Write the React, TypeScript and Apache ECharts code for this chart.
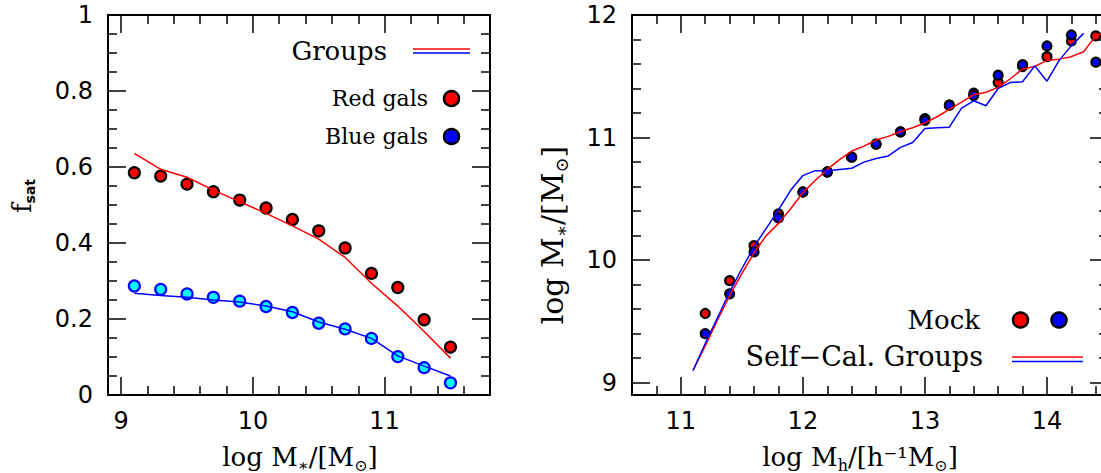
import React, { useEffect, useRef } from 'react';
import * as echarts from 'echarts';

// ---------- Left panel: satellite fraction vs stellar mass ----------
const leftMass = [9.1, 9.3, 9.5, 9.7, 9.9, 10.1, 10.3, 10.5, 10.7, 10.9, 11.1, 11.3, 11.5];
const redGalsPts = [0.585, 0.576, 0.555, 0.535, 0.513, 0.492, 0.462, 0.432, 0.387, 0.320, 0.283, 0.198, 0.126];
const blueGalsPts = [0.287, 0.278, 0.266, 0.257, 0.247, 0.233, 0.217, 0.189, 0.174, 0.149, 0.101, 0.072, 0.032];
const redGroupsLine = [0.636, 0.594, 0.573, 0.539, 0.509, 0.478, 0.445, 0.410, 0.362, 0.294, 0.234, 0.167, 0.097];
const blueGroupsLine = [0.268, 0.262, 0.257, 0.250, 0.245, 0.234, 0.219, 0.192, 0.173, 0.149, 0.103, 0.076, 0.050];

// ---------- Right panel: stellar mass vs halo mass ----------
const mockHalo = [11.2, 11.4, 11.6, 11.8, 12.0, 12.2, 12.4, 12.6, 12.8, 13.0, 13.2, 13.4, 13.6, 13.8, 14.0, 14.2, 14.4];
const mockRed = [9.565, 9.833, 10.118, 10.377, 10.556, 10.72, 10.84, 10.947, 11.047, 11.155, 11.264, 11.362, 11.449, 11.579, 11.66, 11.788, 11.829];
const mockBlue = [9.40, 9.725, 10.067, 10.344, 10.556, 10.719, 10.84, 10.947, 11.047, 11.14, 11.264, 11.343, 11.509, 11.595, 11.747, 11.837, 11.615];

const selfRedHalo = [11.1, 11.2, 11.3, 11.4, 11.5, 11.6, 11.7, 11.8, 11.9, 12.0, 12.1, 12.2, 12.3, 12.4, 12.5, 12.6, 12.7, 12.8, 12.9, 13.0, 13.1, 13.2, 13.3, 13.4, 13.5, 13.6, 13.7, 13.8, 13.9, 14.0, 14.1, 14.2, 14.3, 14.4, 14.5];
const selfRed = [9.10, 9.30, 9.51, 9.71, 9.89, 10.06, 10.20, 10.30, 10.42, 10.55, 10.65, 10.74, 10.82, 10.89, 10.93, 10.98, 11.01, 11.05, 11.08, 11.12, 11.17, 11.23, 11.29, 11.35, 11.37, 11.41, 11.48, 11.56, 11.58, 11.63, 11.64, 11.66, 11.70, 11.83, 11.87];
const selfBlueHalo = [11.1, 11.2, 11.3, 11.4, 11.5, 11.6, 11.7, 11.8, 11.9, 12.0, 12.1, 12.2, 12.3, 12.4, 12.5, 12.6, 12.7, 12.8, 12.9, 13.0, 13.1, 13.2, 13.3, 13.4, 13.5, 13.6, 13.7, 13.8, 13.9, 14.0, 14.1, 14.2, 14.3];
const selfBlue = [9.10, 9.32, 9.53, 9.74, 9.93, 10.11, 10.26, 10.41, 10.57, 10.69, 10.73, 10.73, 10.74, 10.75, 10.80, 10.83, 10.85, 10.92, 10.96, 11.075, 11.08, 11.085, 11.24, 11.30, 11.26, 11.40, 11.45, 11.455, 11.585, 11.46, 11.63, 11.75, 11.85];

// Axis ranges / tick steps
const leftXRange = [8.9, 11.8];
const leftYRange = [0, 1];
const rightXRange = [10.6, 14.5];
const rightYRange = [8.9, 12];

const SERIF = '"DejaVu Serif", "DejaVu Sans", serif';
const SANS = '"DejaVu Sans", sans-serif';

const pairs = (xs: number[], ys: number[]) => xs.map((x, i) => [x, ys[i]]);

function axis(
  gridIndex: number,
  position: string,
  range: number[],
  step: number,
  minorSplit: number,
  labels: boolean,
  showMin: boolean,
  showMax: boolean,
  margin: number
) {
  return {
    type: 'value',
    gridIndex,
    position,
    min: range[0],
    max: range[1],
    minInterval: step,
    maxInterval: step,
    splitNumber: 5,
    axisLine: { show: true, onZero: false, lineStyle: { color: '#000', width: 2 } },
    axisTick: { show: true, inside: true, length: 18, lineStyle: { color: '#000', width: 1.5 } },
    minorTick: { show: true, splitNumber: minorSplit, length: 9, lineStyle: { color: '#000', width: 1.5 } },
    splitLine: { show: false },
    minorSplitLine: { show: false },
    axisLabel: {
      show: labels,
      margin,
      fontFamily: SANS,
      fontSize: 24,
      color: '#000',
      showMinLabel: showMin,
      showMaxLabel: showMax,
    },
  };
}

const nameRich = (size: number, sub: number) => ({
  n: { fontFamily: SERIF, fontSize: size, lineHeight: size + 6, color: '#000' },
  s: { fontFamily: SERIF, fontSize: sub, lineHeight: sub, padding: [Math.round(size * 0.62), 0, 0, 0], color: '#000' },
  b: { fontFamily: SANS, fontSize: sub, fontWeight: 'bold', lineHeight: sub, padding: [Math.round(size * 0.62), 0, 0, 0], color: '#000' },
});

function buildOption() {
  return {
    animation: false,
    backgroundColor: '#fff',
    grid: [
      { left: 108, top: 15, width: 382, height: 380, outerBoundsMode: 'none', containLabel: false },
      { left: 632, top: 15, width: 476, height: 380, outerBoundsMode: 'none', containLabel: false },
    ],
    xAxis: [
      axis(0, 'bottom', leftXRange, 1, 5, true, false, false, 14),
      axis(0, 'top', leftXRange, 1, 5, false, false, false, 14),
      axis(1, 'bottom', rightXRange, 1, 5, true, false, false, 14),
      axis(1, 'top', rightXRange, 1, 5, false, false, false, 14),
    ],
    yAxis: [
      axis(0, 'left', leftYRange, 0.2, 4, true, true, true, 15),
      axis(0, 'right', leftYRange, 0.2, 4, false, true, true, 15),
      axis(1, 'left', rightYRange, 1, 5, true, false, true, 15),
      axis(1, 'right', rightYRange, 1, 5, false, false, true, 15),
    ],
    series: [
      {
        type: 'scatter', xAxisIndex: 0, yAxisIndex: 0, data: pairs(leftMass, redGalsPts),
        symbol: 'circle', symbolSize: 11, z: 3, silent: true,
        itemStyle: { color: '#ff0000', borderColor: '#000', borderWidth: 2.2, opacity: 1 },
      },
      {
        type: 'scatter', xAxisIndex: 0, yAxisIndex: 0, data: pairs(leftMass, blueGalsPts),
        symbol: 'circle', symbolSize: 11, z: 3, silent: true,
        itemStyle: { color: '#00ffff', borderColor: '#0000ff', borderWidth: 2.2, opacity: 1 },
      },
      {
        type: 'line', xAxisIndex: 0, yAxisIndex: 0, data: pairs(leftMass, redGroupsLine),
        symbol: 'none', showSymbol: false, z: 4, silent: true,
        lineStyle: { color: '#ff0000', width: 1.5 },
      },
      {
        type: 'line', xAxisIndex: 0, yAxisIndex: 0, data: pairs(leftMass, blueGroupsLine),
        symbol: 'none', showSymbol: false, z: 4, silent: true,
        lineStyle: { color: '#0000ff', width: 1.5 },
      },
      {
        type: 'scatter', xAxisIndex: 2, yAxisIndex: 2, data: pairs(mockHalo, mockRed),
        symbol: 'circle', symbolSize: 9, z: 3, silent: true,
        itemStyle: { color: '#ff0000', borderColor: '#000', borderWidth: 2.2, opacity: 1 },
      },
      {
        type: 'scatter', xAxisIndex: 2, yAxisIndex: 2, data: pairs(mockHalo, mockBlue),
        symbol: 'circle', symbolSize: 9, z: 3, silent: true,
        itemStyle: { color: '#0000ff', borderColor: '#000', borderWidth: 2.2, opacity: 1 },
      },
      {
        type: 'line', xAxisIndex: 2, yAxisIndex: 2, data: pairs(selfRedHalo, selfRed),
        symbol: 'none', showSymbol: false, z: 4, silent: true,
        lineStyle: { color: '#ff0000', width: 1.5 },
      },
      {
        type: 'line', xAxisIndex: 2, yAxisIndex: 2, data: pairs(selfBlueHalo, selfBlue),
        symbol: 'none', showSymbol: false, z: 4, silent: true,
        lineStyle: { color: '#0000ff', width: 1.5 },
      },
    ],
    graphic: [
      // Left legend
      { type: 'text', x: 387, y: 51, z: 10, style: { text: 'Groups', fontFamily: SERIF, fontSize: 26, fill: '#000', align: 'right', verticalAlign: 'middle' } },
      { type: 'line', z: 10, shape: { x1: 413, y1: 49, x2: 470, y2: 49 }, style: { stroke: '#ff0000', lineWidth: 1.5 } },
      { type: 'line', z: 10, shape: { x1: 413, y1: 53, x2: 470, y2: 53 }, style: { stroke: '#0000ff', lineWidth: 1.5 } },
      { type: 'text', x: 428, y: 98, z: 10, style: { text: 'Red gals', fontFamily: SERIF, fontSize: 22, fill: '#000', align: 'right', verticalAlign: 'middle' } },
      { type: 'circle', z: 10, shape: { cx: 451.5, cy: 98.5, r: 7.5 }, style: { fill: '#ff0000', stroke: '#000', lineWidth: 2.5 } },
      { type: 'text', x: 428, y: 136, z: 10, style: { text: 'Blue gals', fontFamily: SERIF, fontSize: 22, fill: '#000', align: 'right', verticalAlign: 'middle' } },
      { type: 'circle', z: 10, shape: { cx: 451.5, cy: 136.5, r: 7.5 }, style: { fill: '#0000ff', stroke: '#000', lineWidth: 2.5 } },
      // Right legend
      { type: 'text', x: 980, y: 320, z: 10, style: { text: 'Mock', fontFamily: SERIF, fontSize: 26, fill: '#000', align: 'right', verticalAlign: 'middle' } },
      { type: 'circle', z: 10, shape: { cx: 1020.5, cy: 320, r: 7.5 }, style: { fill: '#ff0000', stroke: '#000', lineWidth: 2.5 } },
      { type: 'circle', z: 10, shape: { cx: 1059, cy: 320, r: 7.5 }, style: { fill: '#0000ff', stroke: '#000', lineWidth: 2.5 } },
      { type: 'text', x: 983, y: 356, z: 10, style: { text: 'Self\u2212Cal. Groups', fontFamily: SERIF, fontSize: 27, fill: '#000', align: 'right', verticalAlign: 'middle' } },
      { type: 'line', z: 10, shape: { x1: 1012, y1: 357, x2: 1083, y2: 357 }, style: { stroke: '#ff0000', lineWidth: 1.5 } },
      { type: 'line', z: 10, shape: { x1: 1012, y1: 361.5, x2: 1083, y2: 361.5 }, style: { stroke: '#0000ff', lineWidth: 1.5 } },
      // Axis names
      {
        type: 'text', x: 300, y: 457, z: 10,
        style: {
          text: '{n|log M}{s|\u2217}{n|/[M}{s|\u2299}{n|]}',
          align: 'center', verticalAlign: 'middle', rich: nameRich(26, 16),
        },
      },
      {
        type: 'text', x: 860, y: 457, z: 10,
        style: {
          text: '{n|log M}{s|h}{n|/[h\u207B\u00B9M}{s|\u2299}{n|]}',
          align: 'center', verticalAlign: 'middle', rich: nameRich(26, 16),
        },
      },
      {
        type: 'text', x: 22, y: 196, z: 10, rotation: Math.PI / 2,
        style: {
          text: '{n|f}{b|sat}',
          align: 'center', verticalAlign: 'middle', rich: nameRich(26, 14),
        },
      },
      {
        type: 'text', x: 552, y: 235, z: 10, rotation: Math.PI / 2,
        style: {
          text: '{n|log M}{s|\u2217}{n|/[M}{s|\u2299}{n|]}',
          align: 'center', verticalAlign: 'middle', rich: nameRich(30, 18),
        },
      },
    ],
  };
}

export default function App() {
  const ref = useRef<HTMLDivElement>(null);
  useEffect(() => {
    if (!ref.current) return;
    const chart = echarts.init(ref.current, null, { renderer: 'svg' });
    chart.setOption(buildOption() as any);
    return () => {
      chart.dispose();
    };
  }, []);
  return (
    <div
      ref={ref}
      style={{ position: 'fixed', left: 0, top: 0, width: 1101, height: 473, background: '#fff' }}
    />
  );
}
